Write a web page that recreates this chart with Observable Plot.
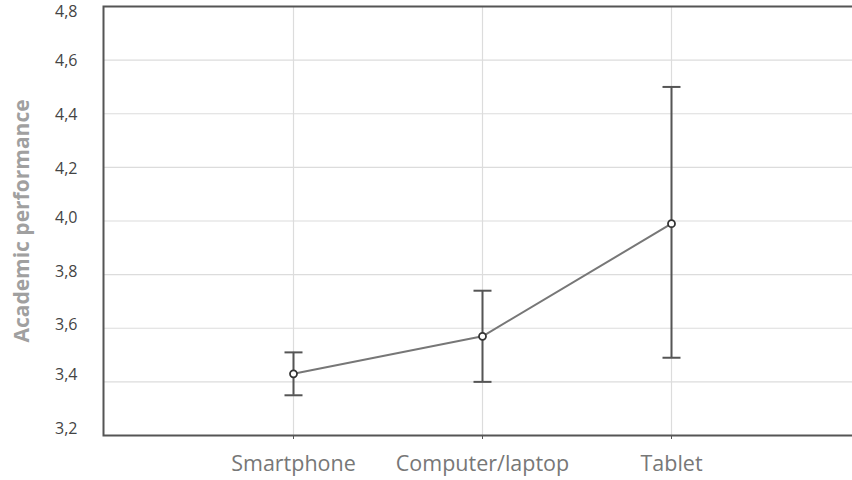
<!DOCTYPE html>
<html>
<head>
<meta charset="utf-8">
<script src="https://cdn.jsdelivr.net/npm/d3@7"></script>
<script src="https://cdn.jsdelivr.net/npm/@observablehq/plot@0.6"></script>
<style>
  html, body { margin: 0; padding: 0; background: #fff; overflow: hidden; }
  #chart { width: 852px; height: 480px; overflow: hidden; }
</style>
</head>
<body>
<div id="chart"></div>
<script>
const categories = ["Smartphone", "Computer/laptop", "Tablet"];
const means = [3.43, 3.57, 3.99];
const lower = [3.35, 3.40, 3.49];
const upper = [3.51, 3.74, 4.50];
const yTicks = [3.2, 3.4, 3.6, 3.8, 4.0, 4.2, 4.4, 4.6, 4.8];

const data = categories.map((c, i) => ({cat: c, mean: means[i], lo: lower[i], hi: upper[i]}));

const capSymbol = {
  draw(context, size) {
    const w = 9;
    context.moveTo(-w, 0);
    context.lineTo(w, 0);
  }
};

const fmt = d => d.toFixed(1).replace(".", ",");
const tickStyle = {tickFormat: fmt, tickSize: 0, tickPadding: 26, fontSize: 16, fill: "#444", label: null};

const chart = Plot.plot({
  width: 852,
  height: 480,
  marginTop: 6,
  marginBottom: 45,
  marginLeft: 103,
  marginRight: 0,
  style: {fontFamily: "'Open Sans', Lato, sans-serif", background: "#fff", overflow: "hidden"},
  x: {type: "point", domain: categories, padding: 1, range: [103, 861], label: null},
  y: {domain: [3.2, 4.8], label: null},
  marks: [
    Plot.gridY(yTicks, {stroke: "#dcdcdc", strokeOpacity: 1, strokeWidth: 1.2}),
    Plot.gridX(categories, {stroke: "#dcdcdc", strokeOpacity: 1, strokeWidth: 1.2}),
    Plot.axisY([4.8], {...tickStyle, dy: 5}),
    Plot.axisY([4.6, 4.4, 4.2], {...tickStyle, dy: 1}),
    Plot.axisY([4.0, 3.8, 3.6], {...tickStyle, dy: -3}),
    Plot.axisY([3.4, 3.2], {...tickStyle, dy: -7}),
    Plot.axisX(categories, {tickSize: 4, tickPadding: 16, fontSize: 21.5, fill: "#777", stroke: "#555", label: null}),
    Plot.text(["Academic performance"], {
      frameAnchor: "left", dx: -81, rotate: -90, textAnchor: "middle",
      fontSize: 21, fontWeight: "bold", fill: "#a0a0a0"
    }),
    Plot.frame({stroke: "#555", strokeWidth: 2, insetRight: -12}),
    Plot.ruleX(data, {x: "cat", y1: "lo", y2: "hi", stroke: "#555", strokeWidth: 2}),
    Plot.dot(data, {x: "cat", y: "lo", symbol: capSymbol, stroke: "#555", strokeWidth: 2}),
    Plot.dot(data, {x: "cat", y: "hi", symbol: capSymbol, stroke: "#555", strokeWidth: 2}),
    Plot.line(data, {x: "cat", y: "mean", stroke: "#777", strokeWidth: 2}),
    Plot.dot(data, {x: "cat", y: "mean", r: 3.5, stroke: "#333", strokeWidth: 1.8, fill: "#fff"})
  ]
});

document.getElementById("chart").appendChild(chart);
</script>
</body>
</html>
